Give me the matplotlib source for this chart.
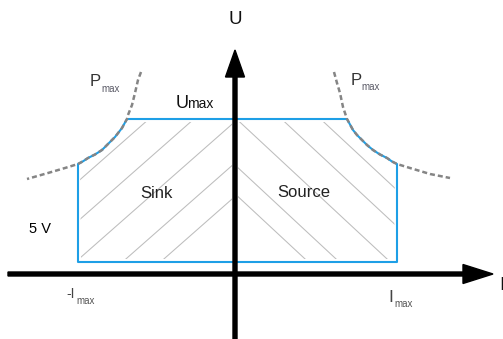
import matplotlib
matplotlib.use("Agg")
import matplotlib.pyplot as plt
from matplotlib.patches import Polygon

plt.rcParams['font.family'] = ['Liberation Sans', 'DejaVu Sans']

# ---- diagram data (diagram units: current I horizontally, voltage U vertically) ----
I_MIN = -157          # -Imax (sink limit)
I_MAX = 162           # Imax (source limit)
U_MAX = 155           # Umax
U_MIN = 12            # 5 V level
U_CORNER = 110        # where Pmax meets the current limit

# Pmax hyperbola (left = sink side, right = source side)
PL_I = [-94, -97, -100, -103, -107, -108, -110, -113, -116.5, -120, -127, -133, -140, -147, -152, -157,
        -170, -187, -208]
PL_U = [202, 194, 181, 169, 159, 155, 151.5, 146, 141.5, 137, 130, 124, 119.5, 116, 112.7, 110,
        106, 101, 95]
PR_I = [99, 102, 105, 108, 112, 115, 118, 122, 127, 132, 138, 145, 152, 157, 162, 175, 195, 215]
PR_U = [202, 191, 181, 167, 155, 149.5, 144, 139, 134, 129, 124, 119.5, 116, 112.5, 110, 106, 100, 96]

# hatch lines: current where each line crosses the reference voltage
SINK_HATCH_I0 = [-244, -199, -155, -108, -70]     # at U = 16, slope +0.88
SOURCE_HATCH_I0 = [-74, -43, 8, 53, 92]           # at U = 149, slope -0.93

BLUE = '#1E9FE6'

fig = plt.figure(figsize=(5.03, 3.39), dpi=100)
ax = fig.add_axes([0, 0, 1, 1])
ax.set_xlim(-235, 268)
ax.set_ylim(-65, 274)
ax.axis('off')

# blue operating area outline
left_arc = sorted([(i, u) for i, u in zip(PL_I, PL_U) if U_CORNER <= u <= U_MAX], key=lambda p: p[1])
right_arc = sorted([(i, u) for i, u in zip(PR_I, PR_U) if U_CORNER <= u <= U_MAX], key=lambda p: -p[1])
left_arc[0] = (I_MIN, U_CORNER)
right_arc[-1] = (I_MAX, U_CORNER)
outline = [(I_MIN, U_MIN)] + left_arc + right_arc + [(I_MAX, U_MIN)]
ax.add_patch(Polygon(outline, closed=True, fill=False, edgecolor=BLUE, lw=1.5,
                     joinstyle='round', zorder=3))

# hatching
sink_clip = Polygon([(I_MIN + 3, U_MIN + 3)] + [(i + 2, u - 3) for i, u in left_arc] + [(-3, U_MAX - 3), (-3, U_MIN + 3)],
                    closed=True, transform=ax.transData, fill=False, edgecolor='none')
source_clip = Polygon([(3, U_MIN + 3), (3, U_MAX - 3)] + [(i - 2, u - 3) for i, u in right_arc] + [(I_MAX - 3, U_MIN + 3)],
                      closed=True, transform=ax.transData, fill=False, edgecolor='none')
ax.add_patch(sink_clip)
ax.add_patch(source_clip)
for i0 in SINK_HATCH_I0:
    xs = [-300, 50]
    ys = [16 + 0.88 * (x - i0) for x in xs]
    ln, = ax.plot(xs, ys, color='#bdbdbd', lw=0.75, zorder=2)
    ln.set_clip_path(sink_clip)
for i0 in SOURCE_HATCH_I0:
    xs = [-150, 250]
    ys = [149 - 0.93 * (x - i0) for x in xs]
    ln, = ax.plot(xs, ys, color='#bdbdbd', lw=0.75, zorder=2)
    ln.set_clip_path(source_clip)

# Pmax dashed curves
ax.plot(PL_I, PL_U, color='#858585', lw=1.8, dashes=(2.0, 1.2), zorder=4)
ax.plot(PR_I, PR_U, color='#858585', lw=1.8, dashes=(2.0, 1.2), zorder=4)

# axes arrows
ax.arrow(-227, 0, 485, 0, width=4, head_width=19, head_length=30,
         length_includes_head=True, color='black', zorder=5)
ax.arrow(0, -66, 0, 290, width=4, head_width=19, head_length=27,
         length_includes_head=True, color='black', zorder=5)

# labels
ax.text(0, 254, 'U', fontsize=13.5, ha='center', va='center', color='#111111')
ax.text(264, -15.5, 'I', fontsize=13.5, ha='left', va='baseline', color='#111111')

ax.text(-59, 166, 'U', fontsize=13, ha='left', va='baseline', color='#111111')
ax.text(-47.5, 166, 'max', fontsize=10, ha='left', va='baseline', color='#111111')

ax.text(-145, 188, 'P', fontsize=12, ha='left', va='baseline', color='#333333')
ax.text(-133.5, 182, 'max', fontsize=7, ha='left', va='baseline', color='#5a5a66')
ax.text(115.5, 189, 'P', fontsize=12, ha='left', va='baseline', color='#333333')
ax.text(126.5, 183.5, 'max', fontsize=7, ha='left', va='baseline', color='#5a5a66')

ax.text(-79, 76, 'Sink', fontsize=12, ha='center', va='baseline', color='#222222')
ax.text(69, 77, 'Source', fontsize=12, ha='center', va='baseline', color='#222222')
ax.text(-195, 45, '5 V', fontsize=10.5, ha='center', va='center', color='#000000')

ax.text(-169, -24.5, '-I', fontsize=10, ha='left', va='baseline', color='#444444')
ax.text(-159, -29.5, 'max', fontsize=7, ha='left', va='baseline', color='#555555')
ax.text(153, -27.7, 'I', fontsize=12.5, ha='left', va='baseline', color='#444444')
ax.text(159, -32.7, 'max', fontsize=7, ha='left', va='baseline', color='#555555')

fig.savefig('out.png', dpi=100)
